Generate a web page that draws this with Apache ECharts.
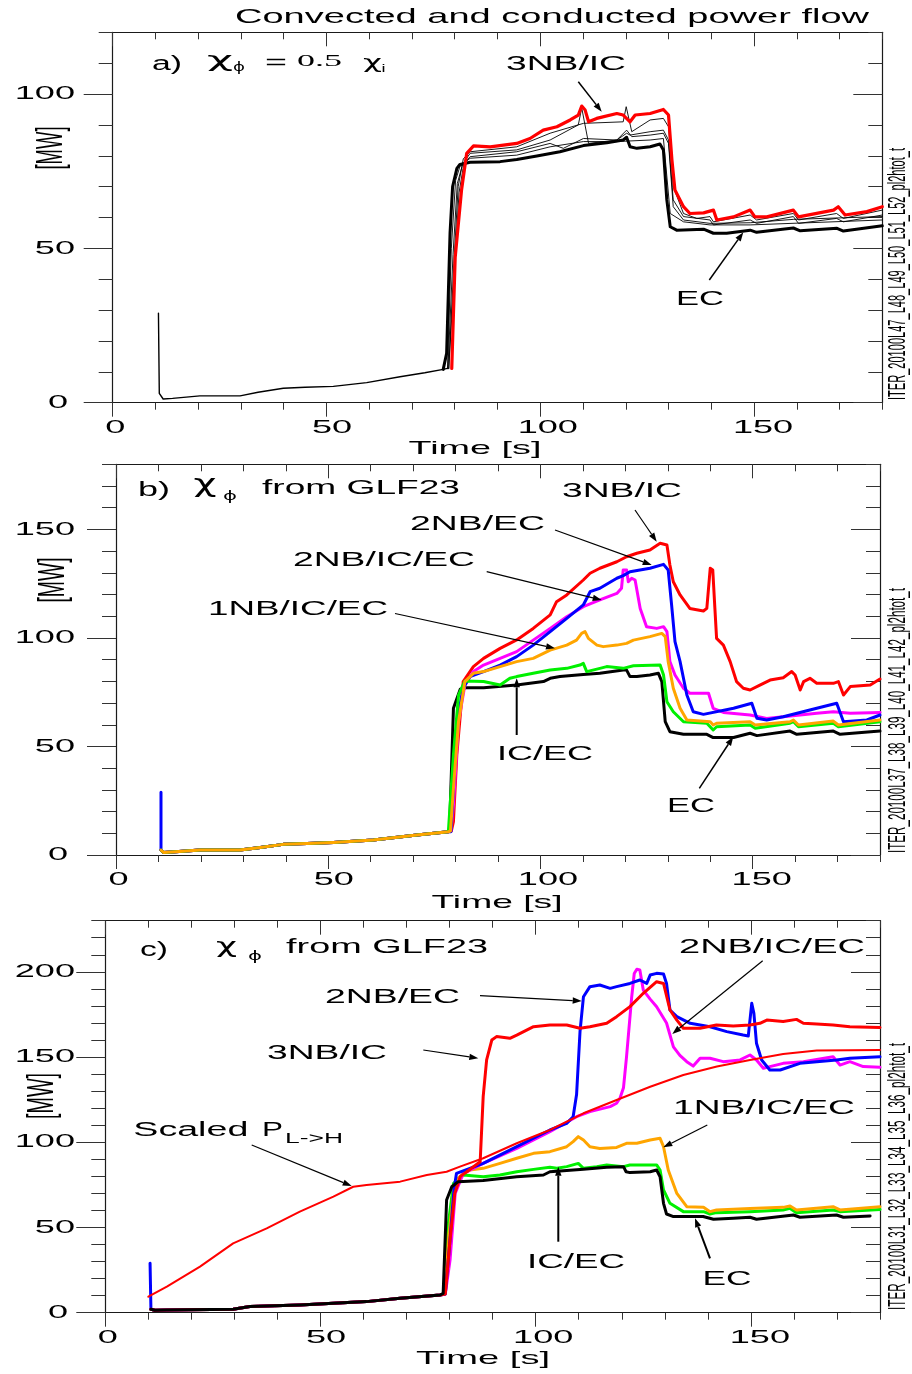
<!DOCTYPE html>
<html><head><meta charset="utf-8">
<script src="https://cdn.jsdelivr.net/npm/echarts@6/dist/echarts.min.js"></script>
<style>html,body{margin:0;padding:0;background:#fff}#c{width:912px;height:1374px}</style>
</head><body><div id="c"></div>
<script>
// ---------------- DATA (time [s], power [MW]) ----------------
const xTickLabels = [0, 50, 100, 150];
const yTickLabelsA = [0, 50, 100];
const yTickLabelsB = [0, 50, 100, 150];
const yTickLabelsC = [0, 50, 100, 150, 200];

// Panel a
const a_early = [[10.7,29.0],[10.9,3.0],[11.8,1.2],[14,1.4],[20.4,2.2],[29.8,2.2],[34,3.4],[39.9,4.7],[45,5.0],[51.6,5.3],[59.4,6.5],[67.2,8.4],[73,9.7],[77.3,10.8],[78.5,11.2]];
const a_EC = [[77.3,10.8],[78.1,16],[78.9,55],[79.5,70],[80.5,75.9],[81.2,77.2],[83.6,77.9],[90.6,78.1],[94.5,78.8],[99.2,79.9],[104.6,81.3],[110.1,83.3],[115.6,84.2],[119.4,85.1],[120.2,86.0],[121,82.9],[122.6,82.4],[125.7,82.9],[128,83.8],[128.8,81.9],[129.6,65.7],[130.4,57],[131.9,55.9],[138.2,56.2],[140.5,54.9],[143.6,54.9],[149.1,55.9],[150.6,55.2],[159.2,56.6],[160.8,55.7],[169.4,56.5],[170.9,55.6],[180,57.3]];
const a_3NBIC = [[79.3,11.1],[80.1,47],[81.6,69],[82.8,80.8],[84.4,83.2],[88.3,82.9],[94.5,84.0],[97.6,85.6],[100.7,88.3],[103.9,89.4],[107,91.6],[108.9,93.2],[109.7,96.1],[110.5,94.8],[111.3,91.0],[113.2,92.1],[117.9,93.7],[119.4,93.2],[121,91.0],[122.2,93.2],[125.7,93.7],[128.8,95.0],[130,93.2],[130.8,78.6],[131.5,68.9],[133.5,63.5],[135,61.3],[138.2,61.5],[140.5,62.4],[141.3,59.2],[145.2,60.2],[149.1,62.4],[150.2,60.2],[153,60.2],[159.2,62.4],[160.4,60.2],[168.6,62.4],[169.7,63.5],[171.3,60.8],[176.4,61.9],[180,63.5]];
const a_thin1 = [[78.6,11.2],[79.8,45],[80.8,70],[82,79],[83.6,81.3],[94.5,82.9],[102.3,87.3],[110.1,90.5],[119.4,91.0],[120.1,95.9],[121.4,87.8],[125.7,91.6],[128.8,92.1],[130,89.4],[131.1,70.0],[133.5,61.3],[136.6,59.7],[139.7,60.3],[140.5,58.6],[149.1,60.8],[150.6,59.2],[159.2,61.3],[160.4,59.2],[169.3,61.3],[170.9,59.7],[180,62.4]];
const a_thin2 = [[78.6,11],[79.9,42],[81,68],[82.2,78],[83.6,80.8],[94.5,81.9],[102.3,85.1],[108.9,90],[109.7,95.5],[111.3,84.0],[117.9,85.1],[120.2,87.3],[121,86.7],[125.7,87.8],[128.8,88.3],[130,85.1],[131.1,65.7],[133.5,60.3],[139.7,59.2],[140.5,57.6],[149.1,59.2],[150.6,58.1],[159.2,60.3],[160.4,58.1],[169.3,59.7],[170.9,58.6],[180,60.8]];
const a_thin3 = [[78.4,11],[79.6,48],[80.6,71],[81.8,77],[83.6,79.7],[94.5,81.3],[102.3,84.0],[105.4,82.4],[110.1,85.6],[117.9,85.1],[120.2,88.3],[121.4,86.2],[125.7,86.7],[128.8,87.3],[130,84.0],[131.1,63.5],[133.5,59.2],[139.7,58.1],[149.1,58.3],[159.2,59.4],[180,60.3]];
const a_thin4 = [[78.3,11],[79.2,50],[80.2,72],[81.2,76.5],[83.6,79.2],[94.5,80.2],[102.3,82.9],[110.1,84.6],[117.9,84.6],[125.7,85.1],[128.8,85.6],[130.4,61.3],[133.5,58.6],[139.7,57.6],[149.1,57.6],[180,59.2]];

// Panel b
const b_spike = [[10.6,28.9]];
const b_early = [[10.6,2.3],[11.2,1.2],[14,1.5],[19.8,2.3],[29.2,2.3],[34,3.5],[39.4,4.9],[45,5.3],[51.2,5.8],[60.6,6.9],[70.9,9.2],[78.3,10.7]];
const b_EC = [[78.6,12.3],[79.5,67.6],[81.1,76.4],[82.6,77.1],[86.6,77.1],[94.4,78.3],[100.7,79.9],[102.3,81.4],[104.6,82.2],[110.1,83.2],[114.0,83.7],[119.5,85.2],[120.3,85.2],[121.1,82.2],[122.7,82.2],[125.8,82.9],[127.8,83.7],[128.6,79.9],[129.4,61.4],[130.5,56.8],[133.7,55.6],[139.2,55.6],[140.7,54.1],[145.5,54.1],[149.4,56.1],[151.0,55.0],[158.8,57.1],[160.4,55.6],[169.0,57.1],[170.6,55.6],[180,57.1]];
const b_ICEC = [[78.7,11],[79.5,46.1],[80.7,73.7],[82.2,80.2],[86.6,79.9],[90.5,78.3],[92.8,81.4],[94.4,82.2],[98.3,83.7],[102.3,85.2],[106.2,86.0],[109.3,87.5],[110.1,88.3],[110.9,84.5],[114.0,86.0],[115.6,86.8],[119.5,86.0],[121.9,87.2],[128.2,87.5],[129.0,82.9],[129.8,70.6],[131.3,66.0],[133.7,61.4],[139.2,60.7],[140.7,57.6],[141.5,59.1],[149.4,59.9],[150.6,58.4],[158.8,60.7],[159.6,61.4],[160.8,59.1],[169.0,60.7],[170.2,59.1],[180,61.4]];
const b_1NBICEC = [[78.8,11],[79.5,30.7],[80.7,61.4],[82.2,79.9],[84.2,83.7],[86.6,84.5],[90.5,86.8],[94.4,89.1],[98.3,90.6],[102.3,94.4],[106.2,96.7],[108.5,99.0],[109.7,102.1],[110.5,102.9],[111.3,99.8],[113.3,96.7],[114.8,96.0],[118.0,96.7],[120.3,97.5],[121.9,99.0],[125.8,100.6],[128.6,102.1],[129.4,100.6],[130.1,89.1],[131.3,76.8],[132.9,67.6],[134.5,62.2],[140.0,61.4],[140.7,59.9],[141.5,60.7],[149.4,61.4],[150.6,59.9],[158.8,61.4],[159.6,62.2],[160.8,59.9],[169.0,61.7],[170.2,59.9],[180,62.2]];
const b_2NBICEC = [[78.9,11],[79.5,23.0],[80.7,61.4],[82.2,78.3],[84.2,84.5],[86.6,87.5],[90.5,90.6],[94.4,93.7],[98.3,99.0],[102.3,104.4],[106.2,109.8],[110.1,114.4],[114.0,117.5],[118.0,120.5],[119.1,122.9],[119.5,131.3],[120.3,131.3],[120.7,125.9],[121.5,127.5],[122.3,126.7],[123.5,113.6],[125.0,105.2],[127.4,104.4],[129.0,105.2],[129.8,102.9],[130.5,89.1],[131.7,82.9],[133.7,76.8],[135.2,74.5],[139.6,74.5],[140.7,67.6],[143.1,65.7],[149.4,64.5],[153.3,62.9],[157.2,63.7],[161.2,64.5],[165.1,65.3],[169.0,66.0],[173.0,65.3],[180,65.7]];
const b_2NBEC = [[78.9,10.7],[79.5,30.7],[80.3,61.4],[81.8,76.8],[83.4,82.2],[86.6,84.5],[90.5,87.5],[94.4,91.4],[98.3,96.7],[102.3,102.9],[106.2,109.0],[110.1,115.2],[111.7,121.3],[114.0,122.9],[118.0,127.5],[119.5,128.7],[121.1,130.5],[125.8,132.1],[129.0,133.9],[130.1,131.3],[130.9,115.2],[131.7,98.3],[132.9,89.1],[134.5,73.7],[136.0,66.0],[138.4,64.8],[145.5,67.6],[149.8,69.9],[151.0,63.0],[153.3,62.2],[157.2,63.7],[165.1,67.6],[169.8,69.9],[171.4,61.4],[176.9,62.2],[180,64.5]];
const b_3NBIC = [[79.0,11],[79.5,15.4],[80.3,46.1],[81.8,79.9],[84.2,86.8],[86.6,90.6],[90.5,95.2],[94.4,99.1],[98.3,104.4],[102.3,110.6],[103.8,116.7],[106.2,119.8],[110.1,126.7],[111.7,129.8],[114.0,132.1],[118.0,135.1],[120.3,137.4],[122.7,139.0],[125.8,140.5],[128.2,143.6],[129.8,142.8],[130.5,133.6],[131.3,125.9],[132.9,119.8],[135.2,113.6],[138.4,112.4],[139.2,113.6],[140.0,132.1],[140.6,131.3],[141.1,113.6],[141.5,99.8],[143.1,96.7],[144.7,89.1],[146.2,79.9],[147.8,76.8],[149.4,76.0],[151.7,78.3],[154.1,80.6],[157.2,81.7],[159.2,84.5],[160.0,82.9],[161.2,76.0],[162.0,79.9],[163.5,81.4],[165.1,79.1],[169.0,79.1],[170.2,79.9],[171.4,73.7],[173.0,77.6],[177.7,78.3],[180,81.1]];

// Panel c
const c_spike = [[10.4,29.0]];
const c_early = [[10.6,2.0],[11.5,1.4],[14.3,1.6],[29.7,2.0],[33.6,3.6],[45.2,4.5],[53.0,5.5],[60.7,6.5],[68.5,8.5],[77.8,10.4]];
const c_EC = [[78.5,11.3],[79.3,66.1],[80.5,73.9],[82.0,76.9],[87.8,77.5],[95.6,79.8],[101.8,80.8],[103.3,82.7],[107.2,83.4],[111.1,84.1],[116.5,85.3],[120.4,85.7],[121.0,82.7],[121.9,82.2],[126.6,82.7],[128.1,83.7],[128.9,79.8],[129.7,64.2],[130.4,57.9],[132.0,56.4],[138.9,56.4],[141.3,54.8],[145.9,55.4],[149.8,56.0],[151.3,54.8],[159.9,57.3],[161.4,56.0],[169.9,57.3],[171.5,56.0],[177.7,56.8]];
const c_ICEC = [[78.7,11],[79.6,50],[80.9,75.9],[83.2,80.8],[87.8,79.8],[91.7,80.8],[95.6,82.7],[99.5,84.1],[103.3,85.3],[104.9,84.7],[107.2,85.7],[109.9,87.6],[111.1,84.7],[114.2,85.7],[116.5,86.7],[120.4,85.7],[121.9,86.7],[128.1,86.7],[128.9,83.7],[129.7,72.0],[131.2,64.2],[134.3,59.3],[139.0,59.3],[140.5,57.9],[142.0,58.7],[149.8,59.3],[157.5,60.3],[159.1,61.2],[160.6,58.7],[169.1,60.3],[170.7,59.3],[180,60.6]];
const c_1NBICEC = [[78.8,11],[79.8,45],[81.0,72],[81.6,77.9],[83.2,81.8],[84.7,83.7],[87.8,84.7],[91.7,87.6],[95.6,90.6],[99.5,93.5],[103.3,94.5],[107.2,97.4],[108.7,100.4],[109.9,103.3],[111.1,101.3],[112.6,97.4],[114.9,96.4],[118.8,97.0],[121.1,99.4],[123.5,99.4],[126.6,101.3],[128.9,102.3],[129.7,97.4],[130.8,83.7],[132.8,70.0],[135.1,62.2],[139.0,61.8],[140.5,59.3],[142.0,60.3],[149.8,61.2],[157.5,61.8],[159.1,62.6],[160.6,60.3],[169.1,62.2],[170.7,60.3],[180,62.2]];
const c_2NBICEC = [[79.0,11],[80.1,30.9],[81.3,70.0],[83.2,81.8],[87.8,87.6],[95.6,96.4],[103.3,106.2],[109.5,115.0],[112.6,118.0],[117.3,120.9],[118.8,122.9],[119.6,126],[120.4,132],[121.1,150],[122.3,185],[122.9,199],[123.5,201.5],[124.2,201.1],[125.0,189.3],[126.6,184],[128.1,179.5],[130.4,170],[132.0,156],[133.5,151],[135.1,147.3],[136.6,144.7],[138.2,149.3],[140.5,149.3],[143.6,147.3],[147.5,148.3],[149.8,151.2],[151.3,148.3],[152.9,143.4],[154.4,144.4],[157.5,146.3],[162.2,147.3],[169.1,150.2],[170.7,145.3],[173.0,147.3],[176.1,144.4],[180,144.0]];
const c_2NBEC = [[79.0,11],[80.0,40],[81.0,72],[81.6,81.8],[87.8,87.6],[95.6,97.4],[103.3,107.2],[107.2,111.1],[108.7,115.0],[109.5,128],[110.3,165],[111.1,185.4],[112.6,191.3],[114.9,192.3],[117.3,190.3],[118.8,191.3],[121.9,193.2],[124.2,195.2],[125.8,193.2],[126.6,198.1],[128.1,199.1],[129.7,198.7],[130.4,193.2],[131.2,177.6],[132.8,173.7],[135.9,169.8],[140.5,167.8],[144.4,164.9],[148.2,162.9],[149.4,162.4],[150.2,181.5],[150.7,175.6],[151.3,158.1],[152.5,148.3],[154.4,142.4],[156.8,142.4],[161.4,146.3],[165.3,147.3],[169.9,148.3],[173.0,149.3],[180,150.2]];
const c_3NBIC = [[79.0,11],[80.0,40],[81.2,70],[82.5,80],[84.0,82.7],[87.1,88.6],[87.8,126.8],[88.6,148.3],[89.8,160.0],[90.9,162.0],[94.0,161.0],[95.6,162.9],[99.5,167.8],[103.3,168.8],[107.2,168.8],[110.3,166.9],[112.6,167.8],[116.5,169.8],[118.8,173.7],[121.9,179.6],[125.0,187.4],[128.1,194.2],[129.7,193.2],[131.2,177.6],[132.8,171.7],[134.3,166.9],[138.2,166.9],[142.0,168.8],[145.9,168.2],[149.8,168.8],[152.1,169.8],[153.7,171.7],[157.5,170.8],[160.6,172.1],[162.2,169.8],[165.3,169.4],[169.1,168.8],[173.0,167.8],[180,167.4]];
const c_PLH = [[10.0,9.4],[14.3,15.3],[22.0,27.0],[29.7,40.7],[37.5,49.5],[45.2,59.3],[53.0,68.1],[57.6,73.9],[60.7,74.9],[68.5,76.9],[74.7,80.8],[79.3,82.7],[82.4,85.7],[87.8,90.6],[95.6,99.4],[103.3,107.2],[111.1,117.0],[118.8,124.8],[126.6,132.6],[134.3,139.5],[142.1,144.4],[149.8,148.3],[157.5,151.8],[165.3,153.8],[180,154.1]];

// ---------------- LAYOUT / STYLE ----------------
const AX = '#1a1a1a', TK = '#333';
const RED = '#ff0000', BLUE = '#0000ff', MAG = '#ff00ff', ORA = '#ffa500', GRN = '#00f000', BLK = '#000000';
const grids = [
  {left:112.7, top:32.3, width:769.6, height:370.4},
  {left:116, top:464.3, width:764, height:390.7},
  {left:105.3, top:920.7, width:774.7, height:392}
];
const yMax = [120, 180, 230];
const yTicks = [yTickLabelsA, yTickLabelsB, yTickLabelsC];

function tick(len, inside, cv) {
  const t = {show:true, length:len, inside:inside, lineStyle:{color:TK, width:1}};
  if (cv) t.customValues = cv;
  return t;
}
function xAxes(g) {
  const base = {gridIndex:g, type:'value', min:0, max:180, splitLine:{show:false}, axisLabel:{show:false}};
  const line = {show:true, onZero:false, lineStyle:{color:AX, width:1.2}};
  const none = {show:false, onZero:false};
  return [
    Object.assign({}, base, {position:'bottom', interval:10, axisLine:line, axisTick:tick(7,false)}),
    Object.assign({}, base, {position:'bottom', interval:50, axisLine:none, axisTick:tick(14,false,xTickLabels)}),
    Object.assign({}, base, {position:'top', interval:10, axisLine:line, axisTick:tick(7,true)}),
    Object.assign({}, base, {position:'top', interval:50, axisLine:none, axisTick:tick(14,true,xTickLabels)})
  ];
}
function yAxes(g) {
  const base = {gridIndex:g, type:'value', min:0, max:yMax[g], splitLine:{show:false}, axisLabel:{show:false}};
  const line = {show:true, onZero:false, lineStyle:{color:AX, width:1.2}};
  const none = {show:false, onZero:false};
  return [
    Object.assign({}, base, {position:'left', interval:10, axisLine:line, axisTick:tick(14,false)}),
    Object.assign({}, base, {position:'left', interval:50, axisLine:none, axisTick:tick(29,false,yTicks[g])}),
    Object.assign({}, base, {position:'right', interval:10, axisLine:line, axisTick:tick(14,true)}),
    Object.assign({}, base, {position:'right', interval:50, axisLine:none, axisTick:tick(29,true,yTicks[g])})
  ];
}
function S(g, name, data, color, width, z) {
  return {type:'line', name:name, data:data, xAxisIndex:4*g, yAxisIndex:4*g, showSymbol:false, symbol:'none',
    lineStyle:{color:color, width:width, join:'round', cap:'round'}, itemStyle:{color:color}, z:z, silent:true, animation:false, clip:true};
}

const series = [
  S(0,'early', a_early, BLK, 1.4, 2),
  S(0,'thin4', a_thin4, BLK, 0.9, 2),
  S(0,'thin3', a_thin3, BLK, 0.9, 2),
  S(0,'thin2', a_thin2, BLK, 0.9, 2),
  S(0,'thin1', a_thin1, BLK, 0.9, 2),
  S(0,'EC', a_EC, BLK, 3, 3),
  S(0,'3NB/IC', a_3NBIC, RED, 3.2, 4),

  S(1,'EC', b_early.concat(b_EC), BLK, 3, 2),
  S(1,'3NB/IC', b_early.concat(b_3NBIC), RED, 3, 3),
  S(1,'2NB/IC/EC', b_early.concat(b_2NBICEC), MAG, 3, 4),
  S(1,'2NB/EC', b_spike.concat(b_early, b_2NBEC), BLUE, 3, 5),
  S(1,'IC/EC', b_early.concat(b_ICEC), GRN, 3, 6),
  S(1,'1NB/IC/EC', b_early.concat(b_1NBICEC), ORA, 3, 7),

  S(2,'IC/EC', c_early.concat(c_ICEC), GRN, 3, 2),
  S(2,'1NB/IC/EC', c_early.concat(c_1NBICEC), ORA, 3, 3),
  S(2,'2NB/IC/EC', c_early.concat(c_2NBICEC), MAG, 3, 4),
  S(2,'2NB/EC', c_spike.concat(c_early, c_2NBEC), BLUE, 3, 5),
  S(2,'3NB/IC', c_early.concat(c_3NBIC), RED, 3, 6),
  S(2,'EC', c_early.concat(c_EC), BLK, 3, 7),
  S(2,'Scaled PLH', c_PLH, RED, 2, 8)
];

const chart = echarts.init(document.getElementById('c'), null, {renderer:'canvas'});
chart.setOption({
  animation:false,
  backgroundColor:'#ffffff',
  grid: grids,
  xAxis: xAxes(0).concat(xAxes(1), xAxes(2)),
  yAxis: yAxes(0).concat(yAxes(1), yAxes(2)),
  series: series
});

// ---------------- TEXT (wide / condensed lettering) ----------------
const mctx = document.createElement('canvas').getContext('2d');
function tw(text, size, fam) { mctx.font = size + 'px "' + fam + '"'; return mctx.measureText(text).width; }
function T(text, x, y, size, width, o) {
  o = o || {};
  const fam = o.fam || 'Liberation Sans';
  const sx = width ? width / tw(text, size, fam) : (o.sx || 1);
  const al = o.align || 'center';
  return {type:'text', x:x, y:y, scaleX:sx, scaleY:1, rotation:o.rot || 0, z:100, silent:true,
    style:{text:text, fontSize:size, fontFamily:fam, fontWeight:'normal', fill:'#000',
      align:al, verticalAlign:'middle', textAlign:al, textVerticalAlign:'middle'}};
}
function arrow(x1, y1, x2, y2, w) {
  w = w || 1.2;
  const a = Math.atan2(y2 - y1, x2 - x1), L = 9, W = 3.2;
  const bx = x2 - L * Math.cos(a), by = y2 - L * Math.sin(a);
  const px = -Math.sin(a) * W, py = Math.cos(a) * W;
  return [
    {type:'line', z:100, silent:true, shape:{x1:x1, y1:y1, x2:bx, y2:by}, style:{stroke:'#000', lineWidth:w}},
    {type:'polygon', z:100, silent:true, shape:{points:[[x2, y2], [bx + px, by + py], [bx - px, by - py]]}, style:{fill:'#000'}}
  ];
}
const GR = {fam:'DejaVu Sans'};

const G = [];
// tick labels positioned through the axes' own scales
const xOff = [2.5, 5.5, 7.5, 9];
[0, 1, 2].forEach(function (g) {
  const y0 = chart.convertToPixel({yAxisIndex:4 * g}, 0);
  xTickLabels.forEach(function (v, k) {
    const px = chart.convertToPixel({xAxisIndex:4 * g}, v);
    G.push(T(String(v), px + xOff[k], y0 + 25, 19, null, {sx:1.9}));
  });
  yTicks[g].forEach(function (v) {
    const py = chart.convertToPixel({yAxisIndex:4 * g}, v);
    G.push(T(String(v), v === 0 ? 68 : 75, py, 19, null, {sx:1.9, align:'right'}));
  });
});

// titles, axis names
G.push(T('Convected and conducted power flow', 552, 17.5, 21, 634));
G.push(T('Time [s]', 475, 448.5, 19, 133));
G.push(T('Time [s]', 497, 903, 19, 131));
G.push(T('Time [s]', 483, 1359, 19, 134));
G.push(T('[MW]', 52, 148, 36, 43, {rot:Math.PI / 2}));
G.push(T('[MW]', 54, 580, 36, 45, {rot:Math.PI / 2}));
G.push(T('[MW]', 43, 1096, 36, 46, {rot:Math.PI / 2}));
G.push(T('ITER_20100L47_L48_L49_L50_L51_L52_pl2htot_t', 899, 274, 23, 252, {rot:Math.PI / 2}));
G.push(T('ITER_20100L37_L38_L39_L40_L41_L42_pl2htot_t', 899, 720.5, 23, 265, {rot:Math.PI / 2}));
G.push(T('ITER_20100L31_L32_L33_L34_L35_L36_pl2htot_t', 899, 1176.5, 23, 267, {rot:Math.PI / 2}));

// panel a header
G.push(T('a)', 167, 64, 20, 30));
G.push(T('χ', 220, 61, 22, 26, GR));
G.push(T('ϕ', 239, 68, 13, 12, GR));
G.push(T('=', 276, 63, 20, 22));
G.push(T('0.5', 319.5, 62, 17, 45, {fam:'Liberation Serif'}));
G.push(T('χ', 372.5, 63, 18, 19, GR));
G.push(T('i', 383.5, 69, 11, 4));
// panel a labels
G.push(T('3NB/IC', 566, 64, 20, 120));
G.push(T('EC', 700, 299, 20, 48));
Array.prototype.push.apply(G, arrow(578.3, 81.7, 601.7, 111.7, 1.5));
Array.prototype.push.apply(G, arrow(709.3, 280, 743.3, 232.3, 1.5));

// panel b
G.push(T('b)', 154, 490, 20, 32));
G.push(T('χ', 205, 486, 24, 23, GR));
G.push(T('ϕ', 230, 496.5, 12.5, 14, GR));
G.push(T('from GLF23', 361, 488.5, 21, 198));
G.push(T('3NB/IC', 622, 491, 20, 120));
G.push(T('2NB/EC', 477.5, 524.5, 20, 135));
G.push(T('2NB/IC/EC', 384, 560, 20, 182));
G.push(T('1NB/IC/EC', 298, 609.5, 20, 180));
G.push(T('IC/EC', 545, 754.5, 20, 96));
G.push(T('EC', 691, 806, 20, 48));
Array.prototype.push.apply(G, arrow(635, 510, 656.7, 541.7));
Array.prototype.push.apply(G, arrow(555, 530, 651.7, 565));
Array.prototype.push.apply(G, arrow(486.7, 571.7, 601.7, 600));
Array.prototype.push.apply(G, arrow(395, 613.5, 555, 648.3));
Array.prototype.push.apply(G, arrow(516.7, 735, 516.7, 678.3, 2));
Array.prototype.push.apply(G, arrow(699.3, 788.3, 733.3, 736.7, 1.5));

// panel c
G.push(T('c)', 154, 950, 20, 28));
G.push(T('χ', 226.5, 947, 22, 21, GR));
G.push(T('ϕ', 255, 956.5, 12, 14, GR));
G.push(T('from GLF23', 387, 947.5, 21, 202));
G.push(T('2NB/IC/EC', 772, 947, 20, 186));
G.push(T('2NB/EC', 392.5, 997.5, 20, 135));
G.push(T('3NB/IC', 327, 1053.5, 20, 120));
G.push(T('Scaled', 190.8, 1130, 20, 115));
G.push(T('P', 272.5, 1130, 20, 21));
G.push(T('L->H', 314, 1139, 14, 58));
G.push(T('1NB/IC/EC', 764, 1108, 20, 182));
G.push(T('IC/EC', 576, 1262.5, 20, 98));
G.push(T('EC', 727, 1279, 20, 49));
Array.prototype.push.apply(G, arrow(480, 995.7, 581.7, 1001));
Array.prototype.push.apply(G, arrow(423.3, 1050, 478.3, 1058.3));
Array.prototype.push.apply(G, arrow(251.7, 1145, 351.7, 1186));
Array.prototype.push.apply(G, arrow(762.7, 960.7, 672.3, 1034));
Array.prototype.push.apply(G, arrow(707.3, 1125, 663.3, 1147.3));
Array.prototype.push.apply(G, arrow(558.3, 1241.7, 558.3, 1166.7, 2));
Array.prototype.push.apply(G, arrow(710, 1258.3, 695, 1218.3, 2));

chart.setOption({graphic: {elements: G}});
</script></body></html>
